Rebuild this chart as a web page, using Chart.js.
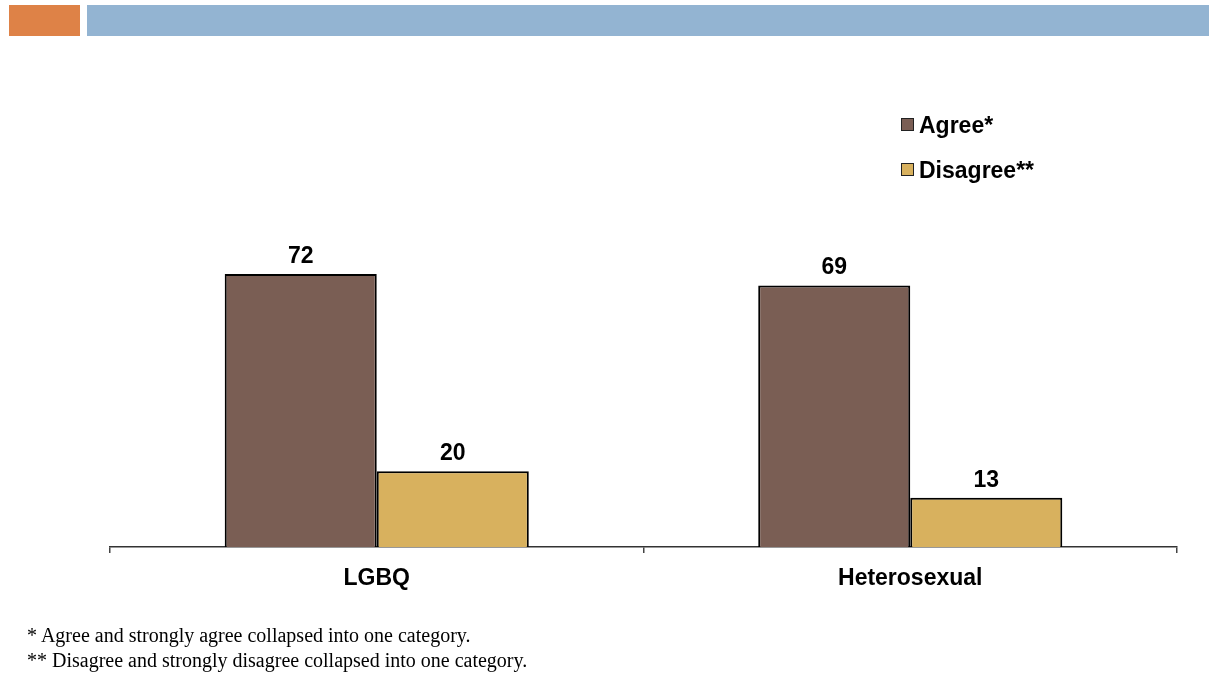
<!DOCTYPE html>
<html>
<head>
<meta charset="utf-8">
<script src="https://cdn.jsdelivr.net/npm/chart.js@4"></script>
<style>
  html, body { margin: 0; padding: 0; background: #fff; }
  body { width: 1209px; height: 676px; position: relative; overflow: hidden; font-family: "Liberation Sans", Arial, sans-serif; }
  .band { position: absolute; top: 5px; height: 31px; }
  #bandA { left: 9px; width: 71px; background: #DE8247; }
  #bandB { left: 87px; width: 1122px; background: #93B4D2; }
  #wrap { position: absolute; left: 0; top: 0; width: 1209px; height: 676px; }
  .legend { position: absolute; left: 901px; font-weight: bold; font-size: 23px; color: #000; line-height: 1; }
  .legend span.sw { position: absolute; left: 0; width: 11px; height: 11px; border: 1px solid #222; }
  .legend span.tx { position: absolute; left: 18px; white-space: nowrap; }
  .note { position: absolute; left: 27px; font-family: "Liberation Serif", "Times New Roman", serif; font-size: 20px; line-height: 20px; color: #000; white-space: nowrap; }
</style>
</head>
<body>
<div class="band" id="bandA"></div>
<div class="band" id="bandB"></div>
<div id="wrap"><canvas id="c" width="1209" height="676"></canvas></div>
<div id="legend"></div>
<div class="note" style="top:625px">* Agree and strongly agree collapsed into one category.</div>
<div class="note" style="top:650px">** Disagree and strongly disagree collapsed into one category.</div>
<script>
const categories = ["LGBQ", "Heterosexual"];
const agreeValues = [72, 69];
const disagreeValues = [20, 13];
const seriesNames = ["Agree*", "Disagree**"];
const seriesColors = ["#7A5E54", "#D8B15E"];

// HTML legend, stacked vertically
const legendEl = document.getElementById("legend");
seriesNames.forEach((name, i) => {
  const item = document.createElement("div");
  item.className = "legend";
  item.style.top = (118 + i * 45) + "px";
  item.innerHTML = '<span class="sw" style="background:' + seriesColors[i] + '"></span><span class="tx" style="top:-4px">' + name + '</span>';
  legendEl.appendChild(item);
});

// value labels drawn above each bar
const valueLabels = {
  id: "valueLabels",
  afterDatasetsDraw(chart) {
    const ctx = chart.ctx;
    ctx.save();
    ctx.font = "bold 23px 'Liberation Sans', Arial, sans-serif";
    ctx.fillStyle = "#000";
    ctx.textAlign = "center";
    ctx.textBaseline = "alphabetic";
    chart.data.datasets.forEach((ds, di) => {
      chart.getDatasetMeta(di).data.forEach((bar, i) => {
        ctx.fillText(String(ds.data[i]), bar.x, bar.y - 11);
      });
    });
    ctx.restore();
  }
};

new Chart(document.getElementById("c"), {
  type: "bar",
  data: {
    labels: categories,
    datasets: [
      { label: seriesNames[0], data: agreeValues, backgroundColor: seriesColors[0], borderColor: "#000", borderWidth: 2 },
      { label: seriesNames[1], data: disagreeValues, backgroundColor: seriesColors[1], borderColor: "#000", borderWidth: 2 }
    ]
  },
  options: {
    responsive: false,
    animation: false,
    events: [],
    layout: { padding: { left: 110, right: 32, top: 168, bottom: 0 } },
    plugins: { legend: { display: false }, tooltip: { enabled: false } },
    datasets: { bar: { barPercentage: 1, categoryPercentage: 0.57 } },
    scales: {
      x: {
        grid: { display: true, drawOnChartArea: false, offset: true, tickLength: 6, color: "#444", lineWidth: 1.5 },
        border: { display: true, color: "#333", width: 1.5 },
        ticks: { color: "#000", font: { family: "'Liberation Sans', Arial, sans-serif", size: 23, weight: "bold" }, padding: 12 },
        afterFit(scale) { scale.height = 676 - 547; }
      },
      y: { display: false, min: 0, max: 100 }
    }
  },
  plugins: [valueLabels]
});
</script>
</body>
</html>
